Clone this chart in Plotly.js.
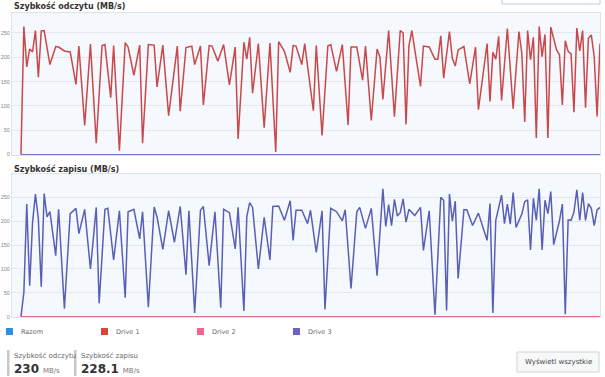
<!DOCTYPE html>
<html><head><meta charset="utf-8">
<script src="https://cdn.plot.ly/plotly-3.0.1.min.js"></script>
<style>html,body{margin:0;padding:0;background:#fff;}#chart{width:605px;height:377px;}</style>
</head><body><div id="chart"></div>
<script>
// sample index (time) and read speed, Drive 1 (MB/s)
const readT = [0,1,2,3,4,5,6,7,8,10,12,13,15,17,19,20,22,24,26,28,29,31,32,34,36,37,39,41,42,44,46,47,49,51,54,55,57,59,60,62,63,65,66,68,70,72,74,75,77,78,79,80,82,84,86,88,89,91,93,94,95,97,98,101,102,104,106,107,109,111,113,114,116,118,119,121,123,124,125,127,129,131,132,133,134,135,138,139,141,143,144,145,146,148,149,150,151,153,155,157,158,161,162,163,164,165,166,168,170,172,173,174,175,176,177,178,179,180,181,182,183,185,186,187,188,189,190,191,192,193,194,195,196,197,198,199,200];
const readV = [0,263,180,217,211,255,159,254,255,185,222,221,213,211,144,223,60,227,23,224,226,117,224,8,230,221,163,225,23,226,225,139,225,80,223,89,220,223,185,223,102,224,223,192,226,143,221,32,231,196,241,126,228,55,229,5,232,212,169,224,223,185,228,90,224,39,223,226,171,226,61,221,221,153,223,70,217,200,113,255,78,255,250,62,223,255,140,223,221,196,196,244,157,253,198,182,215,222,145,221,92,228,109,210,196,243,111,259,94,253,208,67,255,195,241,34,263,201,247,34,262,215,205,102,234,212,207,87,260,213,255,96,239,246,201,78,228];
// sample index (time) and write speed, Drive 3 (MB/s)
const writeT = [0,1,2,3,4,5,6,7,8,9,10,12,13,15,17,19,20,22,24,26,27,29,30,32,34,36,37,39,41,42,44,46,47,49,51,53,55,57,58,60,62,63,65,67,69,70,72,74,75,77,78,79,80,82,84,86,87,89,91,93,94,95,97,99,100,102,104,105,107,109,111,112,114,116,117,119,121,123,125,126,127,128,129,130,131,132,133,134,136,138,139,141,143,145,146,147,148,149,150,151,153,154,156,158,161,162,163,164,166,167,168,169,170,171,173,174,175,176,177,178,179,180,181,182,183,184,186,187,188,189,190,191,192,193,194,195,196,197,198,199,200];
const writeV = [0,51,236,65,198,257,205,63,258,209,220,128,225,17,216,227,174,225,100,229,28,225,227,119,222,40,220,225,163,220,20,230,209,141,222,156,231,88,222,8,223,231,107,220,19,225,218,142,229,12,209,239,229,100,208,119,231,232,202,243,160,223,223,195,223,135,222,15,227,220,201,224,59,220,229,185,227,86,268,189,235,191,246,211,218,247,198,225,212,229,139,222,4,250,244,13,257,200,242,80,224,224,191,217,160,237,8,202,255,195,236,194,260,187,215,241,245,140,248,202,268,140,244,216,262,151,201,236,5,203,202,219,266,202,260,202,237,227,191,224,229];
// idle drives (flat at zero)
const idleT = [0,200];
const idleV = [0,0];
const yTicks = [0,50,100,150,200,250];
const legendNames = ["Razem","Drive 1","Drive 2","Drive 3"];
const legendColors = ["#2f8ee5","#d9443a","#f0648f","#6a62c6"];
const readTitle = "Szybkość odczytu (MB/s)";
const writeTitle = "Szybkość zapisu (MB/s)";
const statLabels = ["Szybkość odczytu","Szybkość zapisu"];
const statValues = ["230","228.1"];
const statUnit = "MB/s";
const buttonText = "Wyświetl wszystkie";

const W = 605, H = 377, ML = 12, MR = 5, MT = 13, MB = 60;
const PW = W - ML - MR, PH = H - MT - MB;
const px = x => (x - ML) / PW;
const py = y => (H - MB - y) / PH;
const FONT = "DejaVu Sans, Verdana, sans-serif";
const RED = "#c9484b", BLUE = "#5860b6";

const traces = [
  {x: idleT, y: idleV, xaxis: "x", yaxis: "y", mode: "lines", line: {color: "#7b73c9", width: 1.2}, hoverinfo: "skip"},
  {x: readT, y: readV, xaxis: "x", yaxis: "y", mode: "lines", line: {color: RED, width: 1.5}},
  {x: idleT, y: idleV, xaxis: "x2", yaxis: "y2", mode: "lines", line: {color: "#e07080", width: 1.2}, hoverinfo: "skip"},
  {x: writeT, y: writeV, xaxis: "x2", yaxis: "y2", mode: "lines", line: {color: BLUE, width: 1.5}}
];

const axX = {range: [-3.1, 200], showticklabels: false, showgrid: false, zeroline: false, showline: true, mirror: true, linecolor: "#dde3e8", linewidth: 1, ticks: ""};
const axY = {tickvals: yTicks, tickfont: {size: 5.5, color: "#888", family: "Liberation Sans, Arial, sans-serif"}, gridcolor: "#e4e8ec", gridwidth: 1, zeroline: false, showline: true, mirror: true, linecolor: "#dde3e8", ticks: "", ticklabelstandoff: 0};

const layout = {
  width: W, height: H,
  margin: {l: ML, r: MR, t: MT, b: MB},
  paper_bgcolor: "#ffffff", plot_bgcolor: "#f5f9fd",
  showlegend: false,
  font: {family: FONT, color: "#444"},
  xaxis: Object.assign({}, axX, {domain: [0, 1], anchor: "y"}),
  yaxis: Object.assign({}, axY, {domain: [py(155), 1], range: [-1, 291], anchor: "x"}),
  xaxis2: Object.assign({}, axX, {domain: [0, 1], anchor: "y2"}),
  yaxis2: Object.assign({}, axY, {domain: [0, py(174)], range: [-0.6, 299], anchor: "x2"}),
  shapes: [], annotations: []
};

// chart titles
layout.annotations.push({xref: "paper", yref: "paper", x: px(12), y: py(6), xanchor: "left", yanchor: "middle", showarrow: false, text: "<b>" + readTitle + "</b>", font: {size: 8, color: "#333", family: FONT}});
layout.annotations.push({xref: "paper", yref: "paper", x: px(12), y: py(169), xanchor: "left", yanchor: "middle", showarrow: false, text: "<b>" + writeTitle + "</b>", font: {size: 8, color: "#333", family: FONT}});

// top right partial dropdown box
layout.shapes.push({type: "rect", xref: "paper", yref: "paper", x0: px(502), x1: px(600), y0: py(4), y1: py(-4), line: {color: "#b9cfdc", width: 1}, fillcolor: "#ffffff"});

// legend
const legX = [6, 101, 197, 293];
legendNames.forEach((n, i) => {
  layout.shapes.push({type: "rect", xref: "paper", yref: "paper", x0: px(legX[i]), x1: px(legX[i] + 7), y0: py(335), y1: py(328), line: {width: 0}, fillcolor: legendColors[i]});
  layout.annotations.push({xref: "paper", yref: "paper", x: px(legX[i] + 13), y: py(331.5), xanchor: "left", yanchor: "middle", showarrow: false, text: n, font: {size: 6.5, color: "#666", family: FONT}});
});

// stats footer
const statX = [7, 74];
statLabels.forEach((l, i) => {
  layout.shapes.push({type: "rect", xref: "paper", yref: "paper", x0: px(statX[i]), x1: px(statX[i] + 2.5), y0: py(376), y1: py(350), line: {width: 0}, fillcolor: "#c8c8c8"});
  layout.annotations.push({xref: "paper", yref: "paper", x: px(statX[i] + 5), y: py(355.5), xanchor: "left", yanchor: "middle", showarrow: false, text: l, font: {size: 7, color: "#666", family: FONT}});
  layout.annotations.push({xref: "paper", yref: "paper", x: px(statX[i] + 5), y: py(368.5), xanchor: "left", yanchor: "middle", showarrow: false, text: "<b>" + statValues[i] + "</b> <span style='font-size:7px;color:#777'>" + statUnit + "</span>", font: {size: 12, color: "#333", family: FONT}});
});

// button
layout.shapes.push({type: "rect", xref: "paper", yref: "paper", x0: px(517), x1: px(599), y0: py(372), y1: py(352), line: {color: "#cfd4d8", width: 1}, fillcolor: "#f7f8f9"});
layout.annotations.push({xref: "paper", yref: "paper", x: px(558), y: py(362), xanchor: "center", yanchor: "middle", showarrow: false, text: buttonText, font: {size: 7, color: "#444", family: FONT}});

Plotly.newPlot("chart", traces, layout, {displayModeBar: false, staticPlot: true});
</script></body></html>
